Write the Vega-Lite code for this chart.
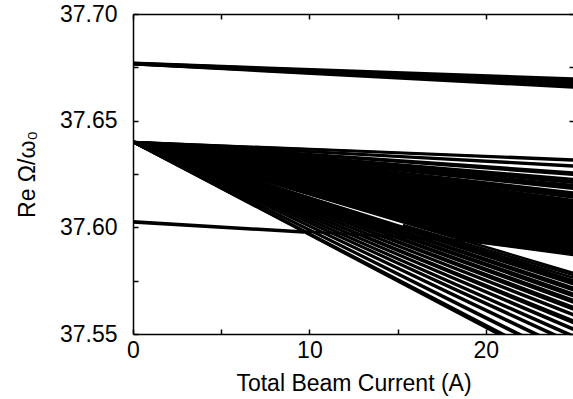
{
  "$schema": "https://vega.github.io/schema/vega-lite/v6.json",
  "width": 441,
  "height": 320,
  "autosize": "none",
  "padding": {"left": 133, "top": 14, "right": 0, "bottom": 65},
  "background": "white",
  "config": {"view": {"stroke": null}, "font": "Liberation Sans"},
  "resolve": {"axis": {"x": "independent", "y": "independent"}},
  "layer": [
    {
      "data": {"values": [
        {"id":"u1","x":0,"y":37.6771},{"id":"u1","x":25,"y":37.6697},
        {"id":"u2","x":0,"y":37.6770},{"id":"u2","x":25,"y":37.6691},
        {"id":"u3","x":0,"y":37.6769},{"id":"u3","x":25,"y":37.6685},
        {"id":"u4","x":0,"y":37.6768},{"id":"u4","x":25,"y":37.6679},
        {"id":"u5","x":0,"y":37.6767},{"id":"u5","x":25,"y":37.6673},
        {"id":"u6","x":0,"y":37.6766},{"id":"u6","x":25,"y":37.6667},
        {"id":"u7","x":0,"y":37.6765},{"id":"u7","x":25,"y":37.6661},
        {"id":"u8","x":0,"y":37.6764},{"id":"u8","x":25,"y":37.6655},
        {"id":"L","x":0,"y":37.6028},{"id":"L","x":9.7,"y":37.598},{"id":"L","x":19.1,"y":37.5936},{"id":"L","x":25,"y":37.5875},
        {"id":"L2","x":0,"y":37.6023},{"id":"L2","x":9.7,"y":37.5976},
        {"id":"b1","x":0,"y":37.64},{"id":"b1","x":19.1,"y":37.5989},{"id":"b1","x":25,"y":37.5892},
        {"id":"b2","x":0,"y":37.64},{"id":"b2","x":19.1,"y":37.5981},{"id":"b2","x":25,"y":37.5889},
        {"id":"b3","x":0,"y":37.64},{"id":"b3","x":19.1,"y":37.5974},{"id":"b3","x":25,"y":37.5886},
        {"id":"b4","x":0,"y":37.64},{"id":"b4","x":19.1,"y":37.5966},{"id":"b4","x":25,"y":37.5883},
        {"id":"b5","x":0,"y":37.64},{"id":"b5","x":19.1,"y":37.5958},{"id":"b5","x":25,"y":37.5880},
        {"id":"b6","x":0,"y":37.64},{"id":"b6","x":19.1,"y":37.5951},{"id":"b6","x":25,"y":37.5877},
        {"id":"b7","x":0,"y":37.64},{"id":"b7","x":19.1,"y":37.5943},{"id":"b7","x":25,"y":37.5874},
        {"id":"b8","x":0,"y":37.64},{"id":"b8","x":19.1,"y":37.5935},{"id":"b8","x":25,"y":37.5870},
        {"id":"c1","x":15.3,"y":37.6011},{"id":"c1","x":25,"y":37.5775},
        {"id":"c2","x":15.3,"y":37.6003},{"id":"c2","x":25,"y":37.5763},
        {"id":"w","x":0,"y":37.64},{"id":"w","x":25,"y":37.5785},
        {"id":"r1","x":0,"y":37.64},{"id":"r1","x":25,"y":37.6318},
        {"id":"r2","x":0,"y":37.64},{"id":"r2","x":25,"y":37.6313},
        {"id":"r3","x":0,"y":37.64},{"id":"r3","x":25,"y":37.6290},
        {"id":"r4","x":0,"y":37.64},{"id":"r4","x":25,"y":37.6285},
        {"id":"r5","x":0,"y":37.64},{"id":"r5","x":25,"y":37.6257},
        {"id":"r6","x":0,"y":37.64},{"id":"r6","x":25,"y":37.6251},
        {"id":"r7","x":0,"y":37.64},{"id":"r7","x":25,"y":37.6246},
        {"id":"r8","x":0,"y":37.64},{"id":"r8","x":25,"y":37.6226},
        {"id":"r9","x":0,"y":37.64},{"id":"r9","x":25,"y":37.6220},
        {"id":"r10","x":0,"y":37.64},{"id":"r10","x":25,"y":37.6214},
        {"id":"r11","x":0,"y":37.64},{"id":"r11","x":25,"y":37.6209},
        {"id":"r12","x":0,"y":37.64},{"id":"r12","x":25,"y":37.6198},
        {"id":"r13","x":0,"y":37.64},{"id":"r13","x":25,"y":37.6192},
        {"id":"r14","x":0,"y":37.64},{"id":"r14","x":25,"y":37.6186},
        {"id":"r15","x":0,"y":37.64},{"id":"r15","x":25,"y":37.6180},
        {"id":"r16","x":0,"y":37.64},{"id":"r16","x":25,"y":37.6163},
        {"id":"r17","x":0,"y":37.64},{"id":"r17","x":25,"y":37.6157},
        {"id":"r18","x":0,"y":37.64},{"id":"r18","x":25,"y":37.6151},
        {"id":"r19","x":0,"y":37.64},{"id":"r19","x":25,"y":37.6145},
        {"id":"r20","x":0,"y":37.64},{"id":"r20","x":25,"y":37.6139},
        {"id":"r21","x":0,"y":37.64},{"id":"r21","x":25,"y":37.6128},
        {"id":"r22","x":0,"y":37.64},{"id":"r22","x":25,"y":37.6120},
        {"id":"r23","x":0,"y":37.64},{"id":"r23","x":25,"y":37.6112},
        {"id":"r24","x":0,"y":37.64},{"id":"r24","x":25,"y":37.6104},
        {"id":"r25","x":0,"y":37.64},{"id":"r25","x":25,"y":37.6096},
        {"id":"r26","x":0,"y":37.64},{"id":"r26","x":25,"y":37.6088},
        {"id":"r27","x":0,"y":37.64},{"id":"r27","x":25,"y":37.6080},
        {"id":"r28","x":0,"y":37.64},{"id":"r28","x":25,"y":37.6072},
        {"id":"r29","x":0,"y":37.64},{"id":"r29","x":25,"y":37.6064},
        {"id":"r30","x":0,"y":37.64},{"id":"r30","x":25,"y":37.6056},
        {"id":"r31","x":0,"y":37.64},{"id":"r31","x":25,"y":37.6048},
        {"id":"r32","x":0,"y":37.64},{"id":"r32","x":25,"y":37.6040},
        {"id":"r33","x":0,"y":37.64},{"id":"r33","x":25,"y":37.6032},
        {"id":"r34","x":0,"y":37.64},{"id":"r34","x":25,"y":37.6024},
        {"id":"r35","x":0,"y":37.64},{"id":"r35","x":25,"y":37.6016},
        {"id":"r36","x":0,"y":37.64},{"id":"r36","x":25,"y":37.6008},
        {"id":"r37","x":0,"y":37.64},{"id":"r37","x":25,"y":37.6000},
        {"id":"r38","x":0,"y":37.64},{"id":"r38","x":25,"y":37.5992},
        {"id":"r39","x":0,"y":37.64},{"id":"r39","x":25,"y":37.5984},
        {"id":"r40","x":0,"y":37.64},{"id":"r40","x":25,"y":37.5976},
        {"id":"r41","x":0,"y":37.64},{"id":"r41","x":25,"y":37.5968},
        {"id":"r42","x":0,"y":37.64},{"id":"r42","x":25,"y":37.5960},
        {"id":"r43","x":0,"y":37.64},{"id":"r43","x":25,"y":37.5952},
        {"id":"r44","x":0,"y":37.64},{"id":"r44","x":25,"y":37.5944},
        {"id":"r45","x":0,"y":37.64},{"id":"r45","x":25,"y":37.5936},
        {"id":"r46","x":0,"y":37.64},{"id":"r46","x":25,"y":37.5928},
        {"id":"r47","x":0,"y":37.64},{"id":"r47","x":25,"y":37.5920},
        {"id":"r48","x":0,"y":37.64},{"id":"r48","x":25,"y":37.5912},
        {"id":"r49","x":0,"y":37.64},{"id":"r49","x":25,"y":37.5904},
        {"id":"r50","x":0,"y":37.64},{"id":"r50","x":25,"y":37.5896},
        {"id":"r51","x":0,"y":37.64},{"id":"r51","x":25,"y":37.5888},
        {"id":"r52","x":0,"y":37.64},{"id":"r52","x":25,"y":37.5880},
        {"id":"r53","x":0,"y":37.64},{"id":"r53","x":25,"y":37.5872},
        {"id":"s1","x":0,"y":37.64},{"id":"s1","x":25,"y":37.5750},
        {"id":"s2","x":0,"y":37.64},{"id":"s2","x":25,"y":37.5744},
        {"id":"s3","x":0,"y":37.64},{"id":"s3","x":25,"y":37.5738},
        {"id":"s4","x":0,"y":37.64},{"id":"s4","x":25,"y":37.5732},
        {"id":"s5","x":0,"y":37.64},{"id":"s5","x":25,"y":37.5716},
        {"id":"s6","x":0,"y":37.64},{"id":"s6","x":25,"y":37.5710},
        {"id":"s7","x":0,"y":37.64},{"id":"s7","x":25,"y":37.5704},
        {"id":"s8","x":0,"y":37.64},{"id":"s8","x":25,"y":37.5688},
        {"id":"s9","x":0,"y":37.64},{"id":"s9","x":25,"y":37.5682},
        {"id":"s10","x":0,"y":37.64},{"id":"s10","x":25,"y":37.5676},
        {"id":"s11","x":0,"y":37.64},{"id":"s11","x":25,"y":37.5658},
        {"id":"s12","x":0,"y":37.64},{"id":"s12","x":25,"y":37.5652},
        {"id":"s13","x":0,"y":37.64},{"id":"s13","x":25,"y":37.5646},
        {"id":"s14","x":0,"y":37.64},{"id":"s14","x":25,"y":37.5626},
        {"id":"s15","x":0,"y":37.64},{"id":"s15","x":25,"y":37.5620},
        {"id":"s16","x":0,"y":37.64},{"id":"s16","x":25,"y":37.5614},
        {"id":"s17","x":0,"y":37.64},{"id":"s17","x":25,"y":37.5592},
        {"id":"s18","x":0,"y":37.64},{"id":"s18","x":25,"y":37.5586},
        {"id":"s19","x":0,"y":37.64},{"id":"s19","x":25,"y":37.5562},
        {"id":"s20","x":0,"y":37.64},{"id":"s20","x":25,"y":37.5556},
        {"id":"s21","x":0,"y":37.64},{"id":"s21","x":25,"y":37.5550},
        {"id":"s22","x":0,"y":37.64},{"id":"s22","x":25,"y":37.5525},
        {"id":"s23","x":0,"y":37.64},{"id":"s23","x":25,"y":37.5519},
        {"id":"s24","x":0,"y":37.64},{"id":"s24","x":25,"y":37.5491},
        {"id":"s25","x":0,"y":37.64},{"id":"s25","x":25,"y":37.5485},
        {"id":"s26","x":0,"y":37.64},{"id":"s26","x":25,"y":37.5457},
        {"id":"s27","x":0,"y":37.64},{"id":"s27","x":25,"y":37.5451},
        {"id":"s28","x":0,"y":37.64},{"id":"s28","x":25,"y":37.5418},
        {"id":"s29","x":0,"y":37.64},{"id":"s29","x":25,"y":37.5411},
        {"id":"s30","x":0,"y":37.64},{"id":"s30","x":25,"y":37.5374},
        {"id":"s31","x":0,"y":37.64},{"id":"s31","x":25,"y":37.5366},
        {"id":"s32","x":0,"y":37.64},{"id":"s32","x":25,"y":37.5328},
        {"id":"s33","x":0,"y":37.64},{"id":"s33","x":25,"y":37.5320},
        {"id":"s34","x":0,"y":37.64},{"id":"s34","x":25,"y":37.5312}
      ]},
      "mark": {"type": "line", "color": "black", "strokeWidth": 2.5, "clip": true, "strokeCap": "butt"},
      "encoding": {
        "x": {"field": "x", "type": "quantitative",
          "scale": {"domain": [0, 25], "nice": false, "zero": false},
          "axis": {"orient": "bottom", "values": [0, 5, 10, 15, 20, 25],
            "labelExpr": "datum.value % 10 === 0 ? datum.value : ''",
            "grid": false, "tickSize": -5, "tickWidth": 1.5, "tickColor": "black",
            "domainColor": "black", "domainWidth": 1.5,
            "labelFont": "Liberation Sans", "labelFontSize": 23, "labelColor": "black",
            "labelPadding": 10, "labelFlush": false, "labelOverlap": false,
            "title": "Total Beam Current (A)", "titleFont": "Liberation Sans", "titleFontSize": 23,
            "titleFontWeight": "normal", "titleColor": "black", "titlePadding": 10}},
        "y": {"field": "y", "type": "quantitative",
          "scale": {"domain": [37.55, 37.70], "nice": false, "zero": false},
          "axis": {"orient": "left", "values": [37.55, 37.575, 37.6, 37.625, 37.65, 37.675, 37.7],
            "labelExpr": "round(datum.value * 1000) % 50 === 0 ? format(datum.value, '.2f') : ''",
            "grid": false, "tickSize": -5, "tickWidth": 1.5, "tickColor": "black",
            "domainColor": "black", "domainWidth": 1.5,
            "labelFont": "Liberation Sans", "labelFontSize": 23, "labelColor": "black",
            "labelPadding": 21, "labelFlush": false, "labelOverlap": false,
            "title": "Re Ω/ω₀", "titleFont": "Liberation Sans", "titleFontSize": 23,
            "titleFontWeight": "normal", "titleColor": "black", "titlePadding": 20}},
        "detail": {"field": "id", "type": "nominal"}
      }
    },
    {
      "data": {"values": [{"x": 0, "y": 37.55}]},
      "mark": {"type": "point", "opacity": 0},
      "encoding": {
        "x": {"field": "x", "type": "quantitative",
          "axis": {"orient": "top", "values": [0, 5, 10, 15, 20, 25], "labels": false, "title": null,
            "grid": false, "tickSize": -5, "tickWidth": 1.5, "tickColor": "black",
            "domainColor": "black", "domainWidth": 1.5}},
        "y": {"field": "y", "type": "quantitative",
          "axis": {"orient": "right", "values": [37.55, 37.575, 37.6, 37.625, 37.65, 37.675, 37.7], "labels": false, "title": null,
            "grid": false, "tickSize": -5, "tickWidth": 1.5, "tickColor": "black",
            "domainColor": "black", "domainWidth": 1.5}}
      }
    }
  ]
}
